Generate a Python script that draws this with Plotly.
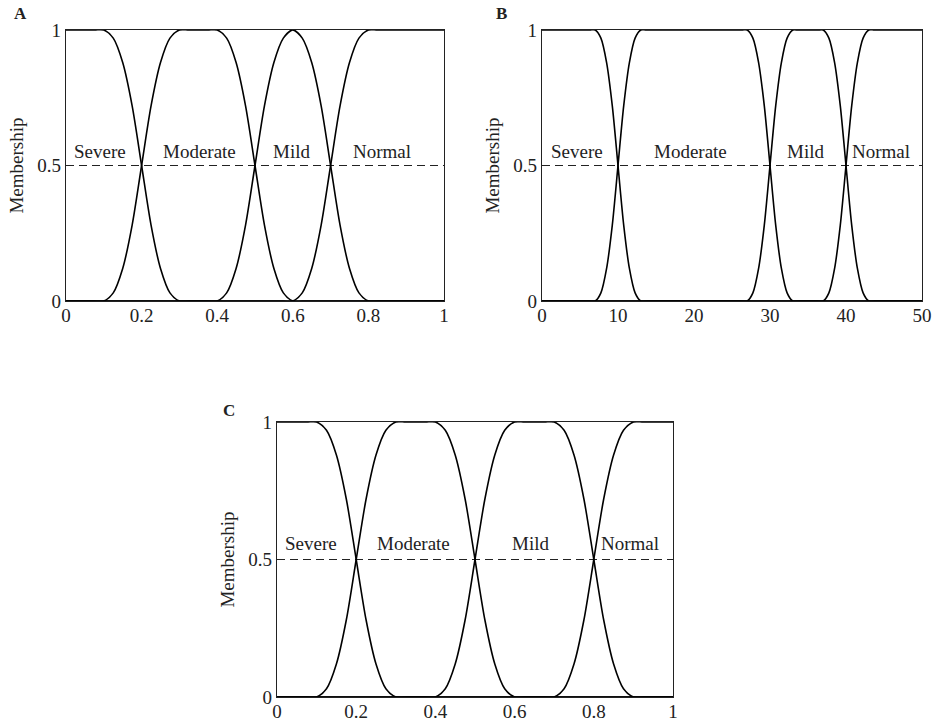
import plotly.graph_objects as go

# ---------------- data ----------------
# Panel A  (x: 0..1)
a_severe_x = [0, 0.075, 0.1, 0.125, 0.15, 0.175, 0.2, 0.225, 0.25, 0.275, 0.3, 0.325, 1]
a_severe_y = [1, 1, 1, 0.97, 0.88, 0.72, 0.5, 0.28, 0.12, 0.03, 0, 0, 0]
a_moderate_x = [0, 0.075, 0.1, 0.125, 0.15, 0.175, 0.2, 0.225, 0.25, 0.275, 0.3, 0.325,
                0.375, 0.4, 0.425, 0.45, 0.475, 0.5, 0.525, 0.55, 0.575, 0.6, 0.625, 1]
a_moderate_y = [0, 0, 0, 0.03, 0.12, 0.28, 0.5, 0.72, 0.88, 0.97, 1, 1,
                1, 1, 0.97, 0.88, 0.72, 0.5, 0.28, 0.12, 0.03, 0, 0, 0]
a_mild_x = [0, 0.375, 0.4, 0.425, 0.45, 0.475, 0.5, 0.525, 0.55, 0.575, 0.6,
            0.625, 0.65, 0.675, 0.7, 0.725, 0.75, 0.775, 0.8, 0.825, 1]
a_mild_y = [0, 0, 0, 0.03, 0.12, 0.28, 0.5, 0.72, 0.88, 0.97, 1,
            0.97, 0.88, 0.72, 0.5, 0.28, 0.12, 0.03, 0, 0, 0]
a_normal_x = [0, 0.575, 0.6, 0.625, 0.65, 0.675, 0.7, 0.725, 0.75, 0.775, 0.8, 0.825, 1]
a_normal_y = [0, 0, 0, 0.03, 0.12, 0.28, 0.5, 0.72, 0.88, 0.97, 1, 1, 1]

# Panel B  (x: 0..50)
b_severe_x = [0, 6.25, 7, 7.75, 8.5, 9.25, 10, 10.75, 11.5, 12.25, 13, 13.75, 50]
b_severe_y = [1, 1, 1, 0.97, 0.88, 0.72, 0.5, 0.28, 0.12, 0.03, 0, 0, 0]
b_moderate_x = [0, 6.25, 7, 7.75, 8.5, 9.25, 10, 10.75, 11.5, 12.25, 13, 13.75,
                26.25, 27, 27.75, 28.5, 29.25, 30, 30.75, 31.5, 32.25, 33, 33.75, 50]
b_moderate_y = [0, 0, 0, 0.03, 0.12, 0.28, 0.5, 0.72, 0.88, 0.97, 1, 1,
                1, 1, 0.97, 0.88, 0.72, 0.5, 0.28, 0.12, 0.03, 0, 0, 0]
b_mild_x = [0, 26.25, 27, 27.75, 28.5, 29.25, 30, 30.75, 31.5, 32.25, 33, 33.75,
            36.25, 37, 37.75, 38.5, 39.25, 40, 40.75, 41.5, 42.25, 43, 43.75, 50]
b_mild_y = [0, 0, 0, 0.03, 0.12, 0.28, 0.5, 0.72, 0.88, 0.97, 1, 1,
            1, 1, 0.97, 0.88, 0.72, 0.5, 0.28, 0.12, 0.03, 0, 0, 0]
b_normal_x = [0, 36.25, 37, 37.75, 38.5, 39.25, 40, 40.75, 41.5, 42.25, 43, 43.75, 50]
b_normal_y = [0, 0, 0, 0.03, 0.12, 0.28, 0.5, 0.72, 0.88, 0.97, 1, 1, 1]

# Panel C  (x: 0..1)
c_severe_x = [0, 0.075, 0.1, 0.125, 0.15, 0.175, 0.2, 0.225, 0.25, 0.275, 0.3, 0.325, 1]
c_severe_y = [1, 1, 1, 0.97, 0.88, 0.72, 0.5, 0.28, 0.12, 0.03, 0, 0, 0]
c_moderate_x = [0, 0.075, 0.1, 0.125, 0.15, 0.175, 0.2, 0.225, 0.25, 0.275, 0.3, 0.325,
                0.375, 0.4, 0.425, 0.45, 0.475, 0.5, 0.525, 0.55, 0.575, 0.6, 0.625, 1]
c_moderate_y = [0, 0, 0, 0.03, 0.12, 0.28, 0.5, 0.72, 0.88, 0.97, 1, 1,
                1, 1, 0.97, 0.88, 0.72, 0.5, 0.28, 0.12, 0.03, 0, 0, 0]
c_mild_x = [0, 0.375, 0.4, 0.425, 0.45, 0.475, 0.5, 0.525, 0.55, 0.575, 0.6, 0.625,
            0.675, 0.7, 0.725, 0.75, 0.775, 0.8, 0.825, 0.85, 0.875, 0.9, 0.925, 1]
c_mild_y = [0, 0, 0, 0.03, 0.12, 0.28, 0.5, 0.72, 0.88, 0.97, 1, 1,
            1, 1, 0.97, 0.88, 0.72, 0.5, 0.28, 0.12, 0.03, 0, 0, 0]
c_normal_x = [0, 0.675, 0.7, 0.725, 0.75, 0.775, 0.8, 0.825, 0.85, 0.875, 0.9, 0.925, 1]
c_normal_y = [0, 0, 0, 0.03, 0.12, 0.28, 0.5, 0.72, 0.88, 0.97, 1, 1, 1]

threshold = 0.5
class_labels = ["Severe", "Moderate", "Mild", "Normal"]
a_label_x = [0.09, 0.352, 0.597, 0.837]
b_label_x = [4.6, 19.6, 34.7, 44.6]
c_label_x = [0.086, 0.344, 0.639, 0.891]
ab_label_y = 0.551
c_label_y = 0.559

a_ticks = [0, 0.2, 0.4, 0.6, 0.8, 1]
b_ticks = [0, 10, 20, 30, 40, 50]
c_ticks = [0, 0.2, 0.4, 0.6, 0.8, 1]
y_ticks = [0, 0.5, 1]
y_ticktext = ["0", "0.5", "1"]

# ---------------- figure ----------------
W, H = 937, 722
FONT = "Liberation Serif, Times New Roman, serif"
FS = 19
INK = "#222"

fig = go.Figure()

panels = [
    ("x", "y", [(a_severe_x, a_severe_y), (a_moderate_x, a_moderate_y),
                (a_mild_x, a_mild_y), (a_normal_x, a_normal_y)], [0, 1], a_label_x, ab_label_y),
    ("x2", "y2", [(b_severe_x, b_severe_y), (b_moderate_x, b_moderate_y),
                  (b_mild_x, b_mild_y), (b_normal_x, b_normal_y)], [0, 50], b_label_x, ab_label_y),
    ("x3", "y3", [(c_severe_x, c_severe_y), (c_moderate_x, c_moderate_y),
                  (c_mild_x, c_mild_y), (c_normal_x, c_normal_y)], [0, 1], c_label_x, c_label_y),
]

for xa, ya, curves, xr, lx, ly in panels:
    fig.add_trace(go.Scatter(x=xr, y=[threshold, threshold], xaxis=xa, yaxis=ya,
                             mode="lines", line=dict(color=INK, width=1.2, dash="8px,5px"),
                             showlegend=False, hoverinfo="skip"))
    for (cx, cy), name in zip(curves, class_labels):
        fig.add_trace(go.Scatter(x=cx, y=cy, xaxis=xa, yaxis=ya, mode="lines", name=name,
                                 line=dict(color="black", width=1.6, shape="spline", smoothing=0.8),
                                 showlegend=False))
    for name, px in zip(class_labels, lx):
        fig.add_annotation(x=px, y=ly, xref=xa, yref=ya, text=name, showarrow=False,
                           font=dict(family=FONT, size=FS, color=INK), yanchor="middle")


def px2dom(a, b, total):
    return [a / total, b / total]


axis_common = dict(showline=True, mirror=True, linecolor=INK, linewidth=1.4,
                   showgrid=False, zeroline=False, ticks="", automargin=False,
                   tickfont=dict(family=FONT, size=FS, color=INK))
ytitle = dict(text="Membership", font=dict(family=FONT, size=FS, color=INK), standoff=8)

fig.update_layout(
    width=W, height=H, margin=dict(l=0, r=0, t=0, b=0),
    paper_bgcolor="white", plot_bgcolor="white",
    xaxis=dict(domain=px2dom(66, 444, W), range=[0, 1], tickvals=a_ticks,
               ticktext=[f"{t:g}" for t in a_ticks], anchor="y", ticklabelstandoff=-3,
               **axis_common),
    yaxis=dict(domain=[1 - 301 / H, 1 - 30 / H], range=[0, 1], tickvals=y_ticks,
               ticktext=y_ticktext, anchor="x", title=ytitle, **axis_common),
    xaxis2=dict(domain=px2dom(542, 922, W), range=[0, 50], tickvals=b_ticks,
                ticktext=[f"{t:g}" for t in b_ticks], anchor="y2", ticklabelstandoff=-3,
                **axis_common),
    yaxis2=dict(domain=[1 - 301 / H, 1 - 30 / H], range=[0, 1], tickvals=y_ticks,
                ticktext=y_ticktext, anchor="x2", title=ytitle, **axis_common),
    xaxis3=dict(domain=px2dom(277, 673, W), range=[0, 1], tickvals=c_ticks,
                ticktext=[f"{t:g}" for t in c_ticks], anchor="y3", ticklabelstandoff=-3,
                **axis_common),
    yaxis3=dict(domain=[1 - 697 / H, 1 - 422 / H], range=[0, 1], tickvals=y_ticks,
                ticktext=y_ticktext, anchor="x3", title=ytitle, **axis_common),
)

for letter, lxp, lyp in [("A", 20, 13), ("B", 501, 13), ("C", 229, 410)]:
    fig.add_annotation(x=lxp / W, y=1 - lyp / H, xref="paper", yref="paper", text=f"<b>{letter}</b>",
                       showarrow=False, font=dict(family=FONT, size=17, color=INK),
                       xanchor="center", yanchor="middle")

# remove the browser's default 8px body margin so the 937x722 figure fills the window
fig.write_html("out.html", config={"displayModeBar": False},
               post_script="document.body.style.margin='0';")
